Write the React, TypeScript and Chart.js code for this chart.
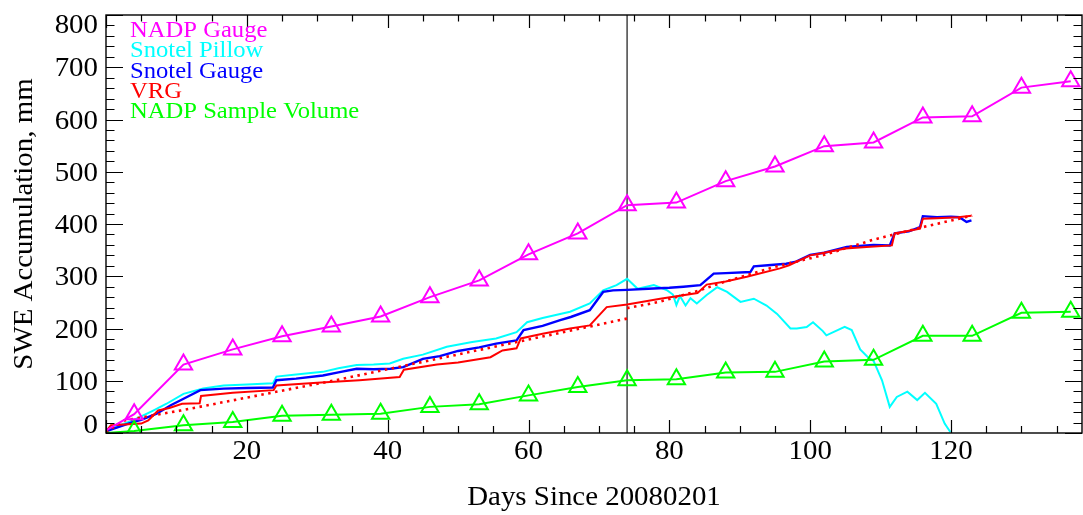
import React, { useEffect, useRef } from 'react';
import { Chart, registerables } from 'chart.js';

Chart.register(...registerables);

// ---- data ----
const nadpDays = [0, 4, 11, 18, 25, 32, 39, 46, 53, 60, 67, 74, 81, 88, 95, 102, 109, 116, 123, 130, 137];
const nadpGauge = [5, 36, 131, 160, 185, 204, 223, 260, 292, 342, 382, 436, 441, 482, 510, 549, 556, 604, 606, 661, 673];
const nadpSample = [0, 4, 15, 21, 33, 35, 37, 50, 55, 72, 88, 101, 103, 116, 117, 137, 140, 186, 186, 230, 232];

const pillowDays = [0, 1, 3.8, 6.7, 8.6, 11, 13.8, 16.7, 20, 23.7, 24.2, 27, 30.8, 33, 35.6, 38, 40.3, 42.2, 45, 48.4, 52, 55.4, 58.3, 59.8, 62, 65.9, 68.7, 70.6, 72.5, 74, 75.5, 77.8, 79.7, 80.5, 81, 81.5, 82.3, 83, 83.9, 85.3, 86.8, 88.2, 90.1, 92, 93.8, 95.3, 97.2, 98.1, 99.5, 100.4, 101.8, 102.3, 104.9, 105.9, 107.1, 108.2, 109, 110.2, 111.3, 112.3, 113.8, 115.2, 116.3, 117.9, 119.1, 119.9];
const pillowValues = [3, 10, 24, 43, 56, 75, 85, 91, 93, 95, 108, 112, 117, 124, 130, 131, 133, 142, 150, 165, 174, 181, 193, 212, 220, 232, 248, 273, 283, 295, 276, 283, 273, 265, 245, 262, 244, 258, 248, 264, 279, 270, 251, 257, 244, 228, 200, 200, 203, 212, 195, 187, 203, 197, 160, 145, 138, 101, 50, 69, 79, 63, 77, 56, 18, 2];

const gaugeDays = [0, 1, 3.8, 5, 7.2, 9.2, 11.5, 13.4, 16.7, 20, 23.7, 24.2, 27, 30.8, 33, 35.6, 38, 40.4, 42.2, 45, 47.4, 50, 53, 55.4, 58.3, 59.3, 62, 64.5, 66, 68.7, 70.6, 72, 74, 77, 80, 82, 84.4, 86.3, 88, 91.5, 92, 94, 96.6, 98, 100, 102, 105.2, 107, 109, 111.3, 112, 114, 115.6, 116, 118, 120, 121.2, 122.2, 122.9];
const gaugeValues = [3, 8, 21, 25, 37, 53, 69, 82, 85, 86, 87, 101, 104, 110, 116, 123, 122, 123, 126, 142, 147, 157, 164, 171, 177, 197, 205, 216, 222, 235, 270, 273, 274, 276, 278, 280, 283, 305, 306, 308, 319, 321, 324, 328, 341, 345, 356, 358, 360, 359, 382, 386, 394, 415, 413, 414, 413, 404, 407];

const vrgDays = [0, 0.7, 5, 6, 7.4, 9, 10.8, 13.3, 13.5, 18, 23.8, 24.2, 30, 36, 41.7, 42.3, 47, 50, 54.6, 56.3, 58.3, 58.9, 62, 65.9, 68.7, 71.1, 74, 78.7, 84, 85.3, 88, 91, 95.7, 97, 100, 102, 105, 108, 111.6, 112, 115.6, 116, 118, 121, 122.9];
const vrgValues = [3, 15, 18, 24, 43, 48, 56, 57, 71, 77, 82, 91, 96, 101, 107, 121, 131, 135, 145, 158, 162, 181, 190, 200, 206, 241, 246, 257, 268, 284, 290, 299, 315, 321, 340, 345, 353, 356, 359, 382, 391, 410, 411, 413, 416];

// dotted VRG trace: two pieces separated by a gap (null) at day 74
const vrgTrendDays = [0, 2.6, 10.6, 32.6, 58.3, 74, 74, 74, 78.6, 84.3, 88, 95, 102, 109, 116, 123];
const vrgTrendValues = [2, 24, 43, 101, 174, 219, null, 239, 251, 273, 290, 318, 341, 370, 394, 416];

const markerDay = 74;

const xTickLabels = [20, 40, 60, 80, 100, 120];
const yTickLabels = [0, 100, 200, 300, 400, 500, 600, 700, 800];

const legendLabels = ['NADP Gauge', 'Snotel Pillow', 'Snotel Gauge', 'VRG', 'NADP Sample Volume'];
const legendColors = ['#ff00ff', '#00ffff', '#0000ff', '#ff0000', '#00ff00'];

const xTitle = 'Days Since 20080201';
const yTitle = 'SWE Accumulation, mm';

// ---- helpers ----
const pts = (d: number[], v: (number | null)[]) => d.map((x, i) => ({ x, y: v[i] }));

const FONT = '"Liberation Serif", "Times New Roman", serif';
const SX = 1.07;

function stretchText(ctx: CanvasRenderingContext2D, text: string, x: number, y: number, align: CanvasTextAlign, rot = 0) {
  ctx.save();
  ctx.translate(x, y);
  if (rot) ctx.rotate(rot);
  ctx.scale(SX, 1);
  ctx.textAlign = align;
  ctx.textBaseline = 'alphabetic';
  ctx.fillText(text, 0, 0);
  ctx.restore();
}

const framePlugin = {
  id: 'frameAxes',
  afterDatasetsDraw(chart: any) {
    const { ctx, chartArea: a, scales } = chart;
    const x = scales.x;
    const y = scales.y;
    ctx.save();
    ctx.strokeStyle = '#000';
    ctx.lineWidth = 1.4;
    ctx.strokeRect(a.left, a.top, a.right - a.left, a.bottom - a.top);

    ctx.lineWidth = 1.2;
    ctx.beginPath();
    for (let v = 0; v <= 800; v += 20) {
      const py = Math.round(y.getPixelForValue(v)) + 0.5;
      const major = v % 100 === 0;
      const len = major ? 17 : 8.5;
      ctx.moveTo(a.left, py); ctx.lineTo(a.left + len, py);
      ctx.moveTo(a.right, py); ctx.lineTo(a.right - len, py);
    }
    for (let v = 0; v <= x.max; v += 5) {
      const px = Math.round(x.getPixelForValue(v)) + 0.5;
      const major = v % 20 === 0;
      ctx.moveTo(px, a.bottom); ctx.lineTo(px, a.bottom - (major ? 13 : 7));
      ctx.moveTo(px, a.top); ctx.lineTo(px, a.top + (major ? 13 : 6.5));
    }
    ctx.stroke();

    ctx.fillStyle = '#000';
    ctx.font = `27px ${FONT}`;
    yTickLabels.forEach((v) => {
      const py = y.getPixelForValue(v);
      let base = py + 9;
      base = Math.min(a.bottom, Math.max(a.top + 18, base));
      stretchText(ctx, String(v), a.left - 8, base, 'right');
    });
    xTickLabels.forEach((v) => {
      const px = x.getPixelForValue(v);
      stretchText(ctx, String(v), px, a.bottom + 25.5, 'center');
    });

    ctx.font = `27px ${FONT}`;
    stretchText(ctx, xTitle, (a.left + a.right) / 2, 505, 'center');
    stretchText(ctx, yTitle, 32, (a.top + a.bottom) / 2, 'center', -Math.PI / 2);

    ctx.font = `23px ${FONT}`;
    legendLabels.forEach((t, i) => {
      ctx.fillStyle = legendColors[i];
      stretchText(ctx, t, 130, 37 + i * 20.3, 'left');
    });
    ctx.restore();
  },
};

export default function App() {
  const ref = useRef<HTMLCanvasElement>(null);

  useEffect(() => {
    if (!ref.current) return;
    const noFirst = (c: any) => (c.dataIndex === 0 ? 0 : 10);
    const chart = new Chart(ref.current, {
      type: 'line',
      data: {
        datasets: [
          {
            label: legendLabels[0],
            data: pts(nadpDays, nadpGauge),
            borderColor: legendColors[0],
            backgroundColor: 'rgba(0,0,0,0)',
            borderWidth: 2,
            pointStyle: 'triangle',
            pointRadius: noFirst,
            pointBorderWidth: 2,
            pointBorderColor: legendColors[0],
            pointBackgroundColor: 'rgba(0,0,0,0)',
          },
          {
            label: legendLabels[4],
            data: pts(nadpDays, nadpSample),
            borderColor: legendColors[4],
            backgroundColor: 'rgba(0,0,0,0)',
            borderWidth: 2,
            pointStyle: 'triangle',
            pointRadius: noFirst,
            pointBorderWidth: 2,
            pointBorderColor: legendColors[4],
            pointBackgroundColor: 'rgba(0,0,0,0)',
          },
          {
            label: legendLabels[3],
            data: pts(vrgDays, vrgValues),
            borderColor: legendColors[3],
            borderWidth: 2,
            pointRadius: 0,
          },
          {
            label: 'VRG trend',
            data: pts(vrgTrendDays, vrgTrendValues),
            borderColor: legendColors[3],
            borderWidth: 2.6,
            borderDash: [2.5, 4.5],
            pointRadius: 0,
            spanGaps: false,
          },
          {
            label: legendLabels[2],
            data: pts(gaugeDays, gaugeValues),
            borderColor: legendColors[2],
            borderWidth: 2.4,
            pointRadius: 0,
          },
          {
            label: legendLabels[1],
            data: pts(pillowDays, pillowValues),
            borderColor: legendColors[1],
            borderWidth: 2,
            pointRadius: 0,
          },
          {
            label: 'marker',
            data: [{ x: markerDay, y: 0 }, { x: markerDay, y: 800 }],
            borderColor: '#444',
            borderWidth: 1.5,
            pointRadius: 0,
          },
        ],
      },
      options: {
        responsive: false,
        animation: false,
        devicePixelRatio: 1,
        layout: { autoPadding: false, padding: { left: 106, top: 15, right: 1, bottom: 82 } },
        elements: { line: { tension: 0 } },
        scales: {
          x: { type: 'linear', min: 0, max: 138.6, display: false },
          y: { type: 'linear', min: 0, max: 800, display: false },
        },
        plugins: { legend: { display: false }, tooltip: { enabled: false } },
      },
      plugins: [framePlugin],
    } as any);
    return () => chart.destroy();
  }, []);

  return (
    <div style={{ position: 'fixed', left: 0, top: 0, width: 1083, height: 515, background: '#fff' }}>
      <canvas ref={ref} width={1083} height={515} style={{ display: 'block' }} />
    </div>
  );
}
